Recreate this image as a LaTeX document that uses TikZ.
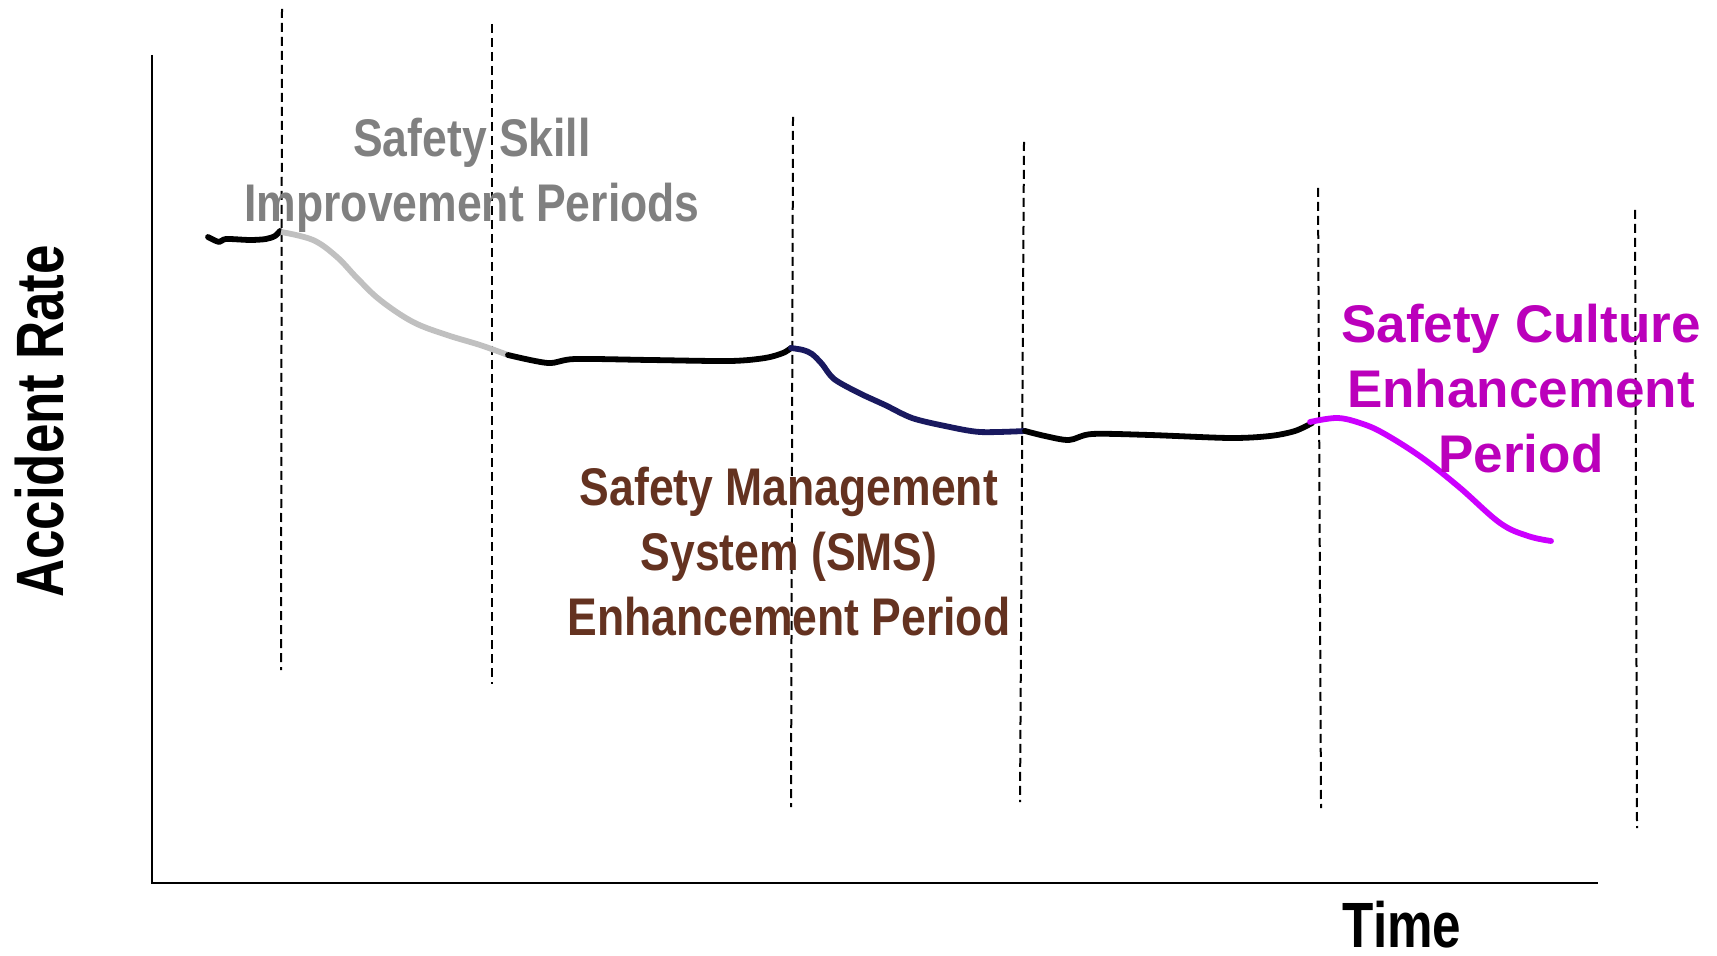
\documentclass[tikz,border=0pt]{standalone}
\usepackage{fontspec}
\setmainfont{Liberation Sans}
\definecolor{greytext}{RGB}{128,128,128}
\definecolor{greycurve}{RGB}{192,192,192}
\definecolor{smsbrown}{RGB}{100,50,32}
\definecolor{navycurve}{RGB}{25,25,95}
\definecolor{cultext}{RGB}{187,0,187}
\definecolor{culcurve}{RGB}{204,0,255}
\tikzset{
  axisline/.style={line width=0.75pt, black},
  divider/.style={line width=1pt, black, dash pattern=on 4.5pt off 2.5pt},
  trend/.style={line width=2.9pt, line cap=round, line join=round},
  lbl/.style={font=\bfseries\fontsize{26.5}{30}\selectfont, inner sep=0pt, anchor=base},
}
\begin{document}
\begin{tikzpicture}[x=0.5pt, y=-0.5pt]
\useasboundingbox (0,0) rectangle (1717,956);
% axes
\coordinate (ytop) at (152,55);
\coordinate (orig) at (152,883);
\coordinate (xend) at (1598,883);
\draw[axisline] (ytop) -- (orig) -- (xend);
% dashed dividers
\coordinate (d1a) at (282,9);   \coordinate (d1b) at (281,670);
\coordinate (d2a) at (492,24);  \coordinate (d2b) at (492,684);
\coordinate (d3a) at (793,117); \coordinate (d3b) at (791,807);
\coordinate (d4a) at (1024,142);\coordinate (d4b) at (1020,802);
\coordinate (d5a) at (1318,188);\coordinate (d5b) at (1321,808);
\coordinate (d6a) at (1635,210);\coordinate (d6b) at (1637,828);
\foreach \i in {1,...,6} \draw[divider] (d\i a) -- (d\i b);
% trend curve
\draw[trend, black] plot[smooth, tension=0.5] coordinates {(208,237) (219,242) (226,239) (250,240) (266,239) (275,236) (280,231)};
\draw[trend, greycurve, line cap=butt] plot[smooth, tension=0.6] coordinates {(281,232) (313,240) (337,257) (357,278) (380,300) (413,322) (447,335) (480,345) (508,355)};
\draw[trend, black] plot[smooth, tension=0.5] coordinates {(508,355) (548,363) (575,359) (650,360) (730,361) (765,358) (783,353) (791,348)};
\draw[trend, navycurve] plot[smooth, tension=0.5] coordinates {(791,348) (803,350) (812,354) (822,364) (834,379) (859,393) (885,405) (912,418) (945,426) (980,432) (1025,431)};
\draw[trend, black] plot[smooth, tension=0.5] coordinates {(1025,431) (1045,436) (1069,440) (1092,434) (1150,435) (1230,438) (1270,436) (1295,431) (1312,423)};
\draw[trend, culcurve] plot[smooth, tension=0.6] coordinates {(1310,422) (1337,418) (1360,423) (1383,433) (1421,457) (1459,487) (1500,523) (1528,536) (1551,541)};
% labels
\node[lbl, text=greytext] (ss1) at (472,157) {\scalebox{0.84}[1]{Safety Skill}};
\node[lbl, text=greytext] (ss2) at (472,222) {\scalebox{0.84}[1]{Improvement Periods}};
\node[lbl, text=smsbrown] (sm1) at (789,505) {\scalebox{0.84}[1]{Safety Management}};
\node[lbl, text=smsbrown] (sm2) at (789,570) {\scalebox{0.84}[1]{System (SMS)}};
\node[lbl, text=smsbrown] (sm3) at (789,635) {\scalebox{0.84}[1]{Enhancement Period}};
\node[lbl, text=cultext] (sc1) at (1521,343) {Safety Culture};
\node[lbl, text=cultext] (sc2) at (1521,408) {Enhancement};
\node[lbl, text=cultext] (sc3) at (1521,473) {Period};
\node[lbl, font=\bfseries\fontsize{32}{36}\selectfont] (time) at (1402,947) {\scalebox{0.80}[1]{Time}};
\node[lbl, font=\bfseries\fontsize{33.5}{38}\selectfont, rotate=90] (acc) at (63,421.5) {\scalebox{0.79}[1]{Accident Rate}};
\end{tikzpicture}
\end{document}
